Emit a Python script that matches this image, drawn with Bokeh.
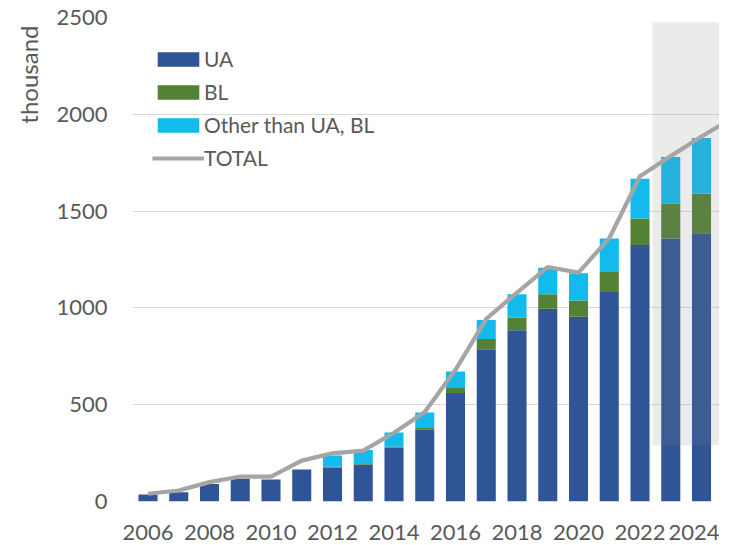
from bokeh.plotting import figure
from bokeh.models import ColumnDataSource, Range1d, FixedTicker, Title
from bokeh.embed import file_html
from bokeh.resources import INLINE

years = list(range(2006, 2025))
ua = [36, 48, 91, 117, 113, 165, 174, 191, 277, 371, 560, 787, 885, 996, 954, 1082, 1325, 1359, 1385]
bl = [0, 0, 0, 0, 0, 0, 6, 6, 6, 12, 26, 52, 65, 74, 84, 107, 137, 179, 206]
other = [0, 0, 0, 0, 0, 0, 57, 69, 74, 77, 86, 99, 120, 138, 141, 170, 205, 242, 287]

total_years = list(range(2006, 2026))
total = [40, 57, 100, 129, 129, 211, 249, 263, 355, 462, 680, 943, 1079, 1211, 1182, 1360, 1680, 1784, 1885, 1980]

x_ticks = [2006, 2008, 2010, 2012, 2014, 2016, 2018, 2020, 2022, 2024]
y_ticks = [0, 500, 1000, 1500, 2000, 2500]

series_names = ["UA", "BL", "Other than UA, BL"]
series_colors = ["#2F5597", "#548235", "#12BAEE"]

FONT = "Lato"
TXT = "#595959"

src = ColumnDataSource(dict(year=years, ua=ua, bl=bl, other=other))

p = figure(width=719, height=545,
           x_range=Range1d(2005.496, 2024.585), y_range=Range1d(0, 2500),
           output_backend="svg", toolbar_location=None,
           min_border_left=132, min_border_right=0, min_border_top=17, min_border_bottom=44)

p.vbar_stack(["ua", "bl", "other"], x="year", width=0.62, color=series_colors,
             line_color=None, source=src, legend_label=series_names)

# forecast shading
p.quad(left=[2022.41], right=[2025.5], bottom=[290], top=[2475],
       fill_color="#808080", fill_alpha=0.16, line_color=None)

p.line(total_years, total, line_color="#A5A5A5", line_width=4.2, legend_label="TOTAL")

p.outline_line_color = None
p.xgrid.grid_line_color = None
p.ygrid.grid_line_color = "#D9D9D9"
p.ygrid.grid_line_width = 1

p.xaxis.ticker = FixedTicker(ticks=x_ticks)
p.yaxis.ticker = FixedTicker(ticks=y_ticks)
for ax in (p.xaxis, p.yaxis):
    ax.axis_line_color = None
    ax.major_tick_line_color = None
    ax.minor_tick_line_color = None
    ax.major_tick_out = 0
    ax.major_tick_in = 0
    ax.major_label_text_font = FONT
    ax.major_label_text_font_size = "22px"
    ax.major_label_text_color = TXT
p.xaxis.major_label_standoff = 23
p.yaxis.major_label_standoff = 25

t = Title(text="thousand", align="right", text_font=FONT, text_font_size="24px",
          text_color=TXT, text_font_style="normal", offset=8, standoff=21)
p.add_layout(t, "left")

lg = p.legend[0]
lg.location = (20, 331)
lg.padding = 0
lg.margin = 0
lg.spacing = 8
lg.glyph_width = 52
lg.glyph_height = 18
lg.label_height = 25
lg.label_standoff = 0
lg.label_text_font = FONT
lg.label_text_font_size = "21px"
lg.label_text_color = TXT
lg.background_fill_alpha = 0
lg.border_line_color = None

open("out.html", "w").write(file_html(p, INLINE))
